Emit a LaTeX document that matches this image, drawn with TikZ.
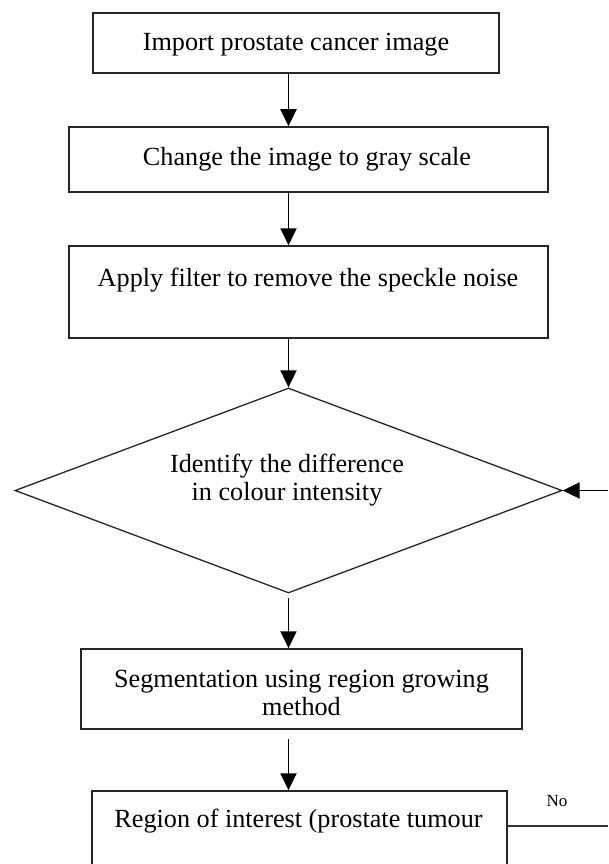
\documentclass[tikz,border=0pt]{standalone}
\usepackage{fontspec}
\setmainfont{Liberation Serif}
\usetikzlibrary{arrows.meta,shapes.geometric}
\begin{document}
\begin{tikzpicture}[x=1pt,y=-1pt,
  box/.style={draw=black!85, line width=1.5pt, inner sep=0pt, rectangle},
  dia/.style={draw=black!85, line width=1.3pt, inner sep=0pt, diamond},
  txt/.style={font=\fontsize{26.2}{28.5}\selectfont, inner sep=0pt, align=center},
  small/.style={font=\fontsize{17}{20}\selectfont, inner sep=0pt},
  arr/.style={line width=1.9pt, -{Triangle[width=16pt,length=17pt]}},
]
\useasboundingbox (0,0) rectangle (608,864);
\clip (0,0) rectangle (608,864);
\fill[white] (0,0) rectangle (608,864);

\node[box, minimum width=406pt, minimum height=60pt] (b1) at (296,43) {};
\node[txt] (t1) at (296,45) {Import prostate cancer image};

\node[box, minimum width=479pt, minimum height=65pt] (b2) at (308.5,159.5) {};
\node[txt] (t2) at (307,159) {Change the image to gray scale};

\node[box, minimum width=479pt, minimum height=92pt] (b3) at (308.5,292) {};
\node[txt] (t3) at (308,280) {Apply filter to remove the speckle noise};

\node[dia, minimum width=547pt, minimum height=205pt] (d) at (288.5,490.5) {};
\node[txt] (t4) at (287,480) {Identify the difference\\in colour intensity};

\node[box, minimum width=441pt, minimum height=80pt] (b5) at (301.5,689) {};
\node[txt] (t5) at (301.5,693) {Segmentation using region growing\\method};

\node[box, minimum width=415pt, minimum height=140pt] (b6) at (299.5,861) {};
\node[txt] (t6) at (298.5,821) {Region of interest (prostate tumour};

\node[small] (no) at (557,801) {No};

\coordinate (ein) at (608,490.5);
\coordinate (eout) at (608,826);

\draw[arr] (b1.south -| d.north) -- (b2.north -| d.north);
\draw[arr] (b2.south -| d.north) -- (b3.north -| d.north);
\draw[arr] (b3.south -| d.north) -- (d.north);
\draw[arr] ([yshift=-4pt]d.south) -- (b5.north -| d.south);
\draw[arr] ([yshift=-9pt]b5.south -| d.south) -- (b6.north -| d.south);
\draw[arr] (ein) -- (d.east);
\draw[line width=1.8pt, draw=black!80] (b6.east |- eout) -- (eout);
\end{tikzpicture}
\end{document}
